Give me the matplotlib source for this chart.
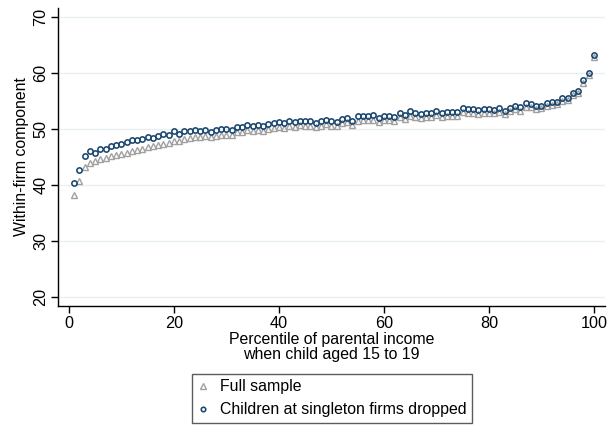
import matplotlib
matplotlib.use("Agg")
import matplotlib.pyplot as plt

plt.rcParams['font.family'] = ['Liberation Sans', 'DejaVu Sans']

percentile = list(range(1, 101))

full_sample = [
    38.3, 40.8, 43.3, 44.0, 44.3, 44.6, 44.9, 45.1, 45.4, 45.6,
    45.8, 46.1, 46.3, 46.5, 46.8, 46.9, 47.1, 47.4, 47.5, 47.9,
    47.8, 48.3, 48.4, 48.6, 48.5, 48.7, 48.5, 48.8, 49.0, 49.0,
    49.0, 49.4, 49.4, 49.8, 49.6, 49.8, 49.6, 50.0, 50.1, 50.3,
    50.2, 50.5, 50.4, 50.7, 50.6, 50.6, 50.3, 50.6, 50.9, 50.6,
    50.6, 51.0, 51.2, 50.8, 51.5, 51.6, 51.6, 51.7, 51.2, 51.6,
    51.7, 51.5, 52.1, 51.8, 52.4, 52.2, 52.0, 52.2, 52.2, 52.5,
    52.1, 52.3, 52.4, 52.3, 53.1, 52.9, 52.9, 52.7, 52.8, 52.9,
    52.8, 53.1, 52.6, 53.2, 53.6, 53.3, 54.0, 53.9, 53.6, 53.7,
    54.1, 54.3, 54.4, 55.0, 55.2, 56.1, 56.4, 58.2, 59.6, 62.9,
]

singleton_dropped = [
    40.3, 42.6, 45.2, 46.1, 45.8, 46.4, 46.4, 47.0, 47.1, 47.4,
    47.6, 48.0, 48.0, 48.3, 48.6, 48.4, 48.8, 49.1, 49.0, 49.6,
    49.1, 49.7, 49.7, 49.9, 49.7, 49.8, 49.5, 49.9, 50.0, 50.0,
    49.9, 50.4, 50.4, 50.8, 50.5, 50.7, 50.5, 50.9, 51.0, 51.2,
    51.0, 51.4, 51.2, 51.5, 51.4, 51.4, 51.1, 51.4, 51.7, 51.4,
    51.3, 51.8, 52.0, 51.5, 52.3, 52.4, 52.4, 52.5, 51.9, 52.3,
    52.4, 52.2, 52.9, 52.5, 53.2, 52.9, 52.7, 52.9, 52.9, 53.2,
    52.8, 53.0, 53.1, 53.0, 53.8, 53.6, 53.6, 53.4, 53.5, 53.5,
    53.4, 53.7, 53.2, 53.8, 54.2, 53.9, 54.6, 54.5, 54.1, 54.2,
    54.6, 54.8, 54.9, 55.5, 55.6, 56.5, 56.8, 58.7, 60.0, 63.3,
]

x_ticks = [0, 20, 40, 60, 80, 100]
y_ticks = [20, 30, 40, 50, 60, 70]

fig = plt.figure(figsize=(6.09, 4.26), dpi=100)
ax = fig.add_axes([0.0952, 0.2817, 0.8982, 0.6993])

grey = '#a0a0a0'
blue = '#1a476f'

ax.plot(percentile, full_sample, linestyle='none', marker='^', markersize=4.5,
        markerfacecolor='none', markeredgecolor=grey, markeredgewidth=1.0,
        label='Full sample', zorder=3)
ax.plot(percentile, singleton_dropped, linestyle='none', marker='o', markersize=3.8,
        markerfacecolor='none', markeredgecolor=blue, markeredgewidth=1.15,
        label='Children at singleton firms dropped', zorder=4)

ax.set_xlim(-2.1, 102.1)
ax.set_ylim(18.4, 71.6)
ax.set_xticks(x_ticks)
ax.set_yticks(y_ticks)
ax.set_yticklabels([str(v) for v in y_ticks], rotation=90, va='center')
ax.tick_params(axis='both', direction='out', length=5, width=1, labelsize=11.7, colors='black')
ax.tick_params(axis='y', pad=2)
ax.tick_params(axis='x', pad=2)

ax.grid(axis='y', color='#e8eff2', linewidth=1)
ax.set_axisbelow(True)
for s in ['top', 'right']:
    ax.spines[s].set_visible(False)
for s in ['left', 'bottom']:
    ax.spines[s].set_linewidth(1)
    ax.spines[s].set_color('black')

ax.set_xlabel('Percentile of parental income\nwhen child aged 15 to 19', fontsize=11.4, linespacing=1.0, labelpad=1)
ax.set_ylabel('Within-firm component', fontsize=11.4, labelpad=3)

leg = fig.legend(loc='upper center', bbox_to_anchor=(0.545, 0.123), ncol=1,
                 fontsize=11.4, frameon=True, fancybox=False, edgecolor='#333333',
                 markerscale=0.85, handlelength=0.7, handletextpad=0.7,
                 borderpad=0.35, labelspacing=0.5, borderaxespad=0)
leg.get_frame().set_linewidth(1)

fig.savefig('out.png', dpi=100)
